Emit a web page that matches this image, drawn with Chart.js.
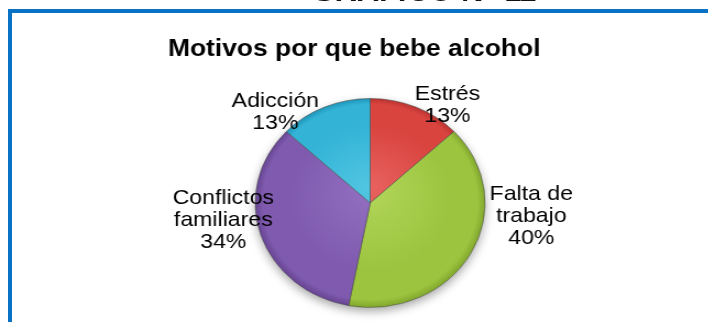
<!DOCTYPE html>
<html>
<head>
<meta charset="utf-8">
<script src="https://cdn.jsdelivr.net/npm/chart.js@4.4.0/dist/chart.umd.min.js"></script>
<style>
  html, body { margin: 0; padding: 0; background: #fff; }
  body { width: 708px; height: 322px; position: relative; overflow: hidden; font-family: "Liberation Sans", Arial, sans-serif; }
  #cabecera {
    position: absolute; left: 312px; top: -22px; z-index: 3;
    font: italic bold 28px/28px "Liberation Sans", Arial, sans-serif;
    color: #111; white-space: nowrap;
    transform: scaleX(1.1); transform-origin: 0 0;
  }
  #marco {
    position: absolute; left: 8px; top: 9px; width: 720px; height: 340px;
    border-top: 4px solid #0a72c4; border-left: 4px solid #0a72c4;
    pointer-events: none; z-index: 2;
  }
  #lienzo {
    position: absolute; left: 0; top: 0; width: 644px; height: 322px;
    transform: scaleX(1.1); transform-origin: 0 0;
  }
</style>
</head>
<body>
<div id="cabecera">GRAFICO N° 11</div>
<div id="marco"></div>
<div id="lienzo"><canvas id="grafico"></canvas></div>

<script>
// Datos del gráfico
const categorias = ['Estrés', ['Falta de', 'trabajo'], ['Conflictos', 'familiares'], 'Adicción'];
const porcentajes = [13, 40, 34, 13];
const titulo = 'Motivos por que bebe alcohol';

// colores [claro, base, oscuro] para cada sector
const colores = [
    ['#e8625f', '#d9443f', '#b8322f'],
    ['#b2d65a', '#9cc43f', '#7fa52b'],
    ['#9470c2', '#7f5aae', '#664391'],
    ['#52c6e2', '#33b3d6', '#1d93b6']
];

// ajuste fino de cada etiqueta respecto al borde del sector
const ajusteEtiquetas = [[-1, -2], [17, -37], [12, -15], [-5, 5]];

const fuente = '"Liberation Sans", Arial, sans-serif';

// relleno con degradado radial para dar volumen a los sectores
function rellenoSector(context) {
    const i = context.dataIndex || 0;
    const chart = context.chart;
    const area = chart.chartArea;
    if (!area) {
        return colores[i][1];
    }
    const cx = (area.left + area.right) / 2;
    const cy = (area.top + area.bottom) / 2;
    const r = Math.min(area.width, area.height) / 2;
    const g = chart.ctx.createRadialGradient(cx, cy - r * 0.15, 0, cx, cy, r);
    g.addColorStop(0, colores[i][0]);
    g.addColorStop(0.7, colores[i][1]);
    g.addColorStop(0.93, colores[i][1]);
    g.addColorStop(1, colores[i][2]);
    return g;
}

// sombra suave debajo del círculo
const sombra = {
    id: 'sombra',
    beforeDatasetsDraw(chart) {
        const arc = chart.getDatasetMeta(0).data[0];
        if (!arc) return;
        const p = arc.getProps(['x', 'y', 'outerRadius'], true);
        const ctx = chart.ctx;
        ctx.save();
        ctx.shadowColor = 'rgba(0,0,0,0.35)';
        ctx.shadowBlur = 10;
        ctx.shadowOffsetY = 4;
        ctx.beginPath();
        ctx.arc(p.x, p.y, p.outerRadius, 0, Math.PI * 2);
        ctx.fillStyle = '#ffffff';
        ctx.fill();
        ctx.restore();
    }
};

// título centrado en todo el lienzo
const tituloCentrado = {
    id: 'tituloCentrado',
    afterDraw(chart) {
        const ctx = chart.ctx;
        ctx.save();
        ctx.font = 'bold 24px ' + fuente;
        ctx.fillStyle = '#000';
        ctx.textAlign = 'center';
        ctx.textBaseline = 'alphabetic';
        ctx.fillText(titulo, chart.width / 2, 56);
        ctx.restore();
    }
};

// etiquetas con nombre y porcentaje fuera de cada sector
const etiquetas = {
    id: 'etiquetas',
    afterDatasetsDraw(chart) {
        const ctx = chart.ctx;
        const meta = chart.getDatasetMeta(0);
        const altoLinea = 22;
        ctx.save();
        ctx.font = '21px ' + fuente;
        ctx.fillStyle = '#000';
        ctx.textAlign = 'center';
        ctx.textBaseline = 'middle';
        meta.data.forEach(function(arc, i) {
            const p = arc.getProps(['x', 'y', 'startAngle', 'endAngle', 'outerRadius'], true);
            const medio = (p.startAngle + p.endAngle) / 2;
            const ux = Math.cos(medio);
            const uy = Math.sin(medio);
            const lineas = [].concat(chart.data.labels[i], porcentajes[i] + '%');
            const ancho = Math.max(...lineas.map(l => ctx.measureText(l).width));
            const cx = p.x + ux * p.outerRadius + Math.sign(ux) * ancho / 2 + ajusteEtiquetas[i][0];
            const cy = p.y + uy * p.outerRadius + ajusteEtiquetas[i][1];
            const y0 = cy - (lineas.length - 1) * altoLinea / 2;
            lineas.forEach(function(l, k) {
                ctx.fillText(l, cx, y0 + k * altoLinea);
            });
        });
        ctx.restore();
    }
};

new Chart(document.getElementById('grafico'), {
    type: 'pie',
    data: {
        labels: categorias,
        datasets: [{
            data: porcentajes,
            backgroundColor: rellenoSector,
            borderColor: 'rgba(70,70,70,0.55)',
            borderWidth: 1
        }]
    },
    options: {
        responsive: true,
        maintainAspectRatio: false,
        animation: false,
        layout: {
            padding: { top: 98, bottom: 14, left: 130, right: 101 }
        },
        plugins: {
            legend: { display: false },
            title: { display: false },
            tooltip: { enabled: false }
        }
    },
    plugins: [sombra, etiquetas, tituloCentrado]
});
</script>
</body>
</html>
